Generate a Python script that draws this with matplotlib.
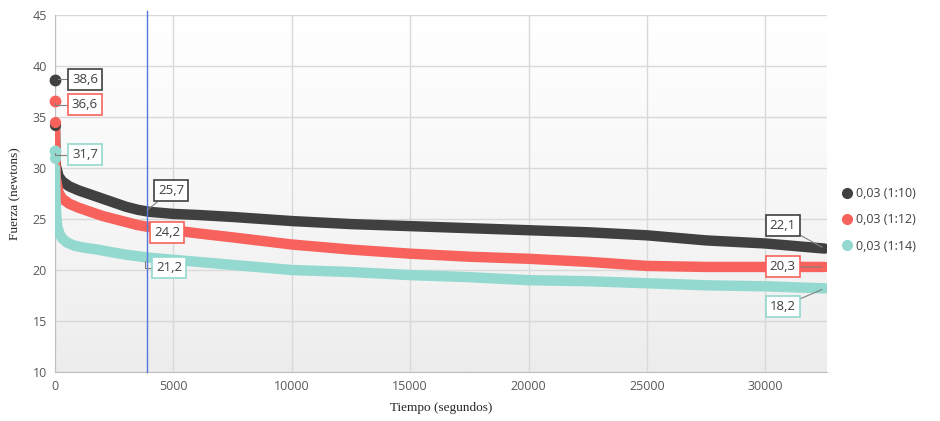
import numpy as np
import matplotlib
matplotlib.use("Agg")
import matplotlib.pyplot as plt
from matplotlib.lines import Line2D

# ---- data ----
series_names = ["0,03 (1:10)", "0,03 (1:12)", "0,03 (1:14)"]
colors = ["#404040", "#f8625c", "#93d9cf"]

peak_t = [0, 0, 0]
peak_v = [38.6, 36.6, 31.7]
second_v = [34.2, 34.5, 31.0]

t_black = [0, 30, 150, 300, 600, 1000, 1500, 2000, 2500, 3000, 3500, 4000, 5000, 6000,
           7500, 10000, 12500, 15000, 17500, 20000, 22500, 25000, 27500, 30000, 32500]
v_black = [34.2, 30.3, 29.2, 28.7, 28.2, 27.8, 27.4, 27.0, 26.6, 26.2, 25.9, 25.7, 25.5, 25.4,
           25.2, 24.8, 24.5, 24.3, 24.1, 23.9, 23.7, 23.4, 22.9, 22.6, 22.1]

t_red = [0, 0, 30, 150, 300, 600, 1000, 1500, 2000, 2500, 3000, 3500, 4000, 5000, 6000,
         7500, 10000, 12500, 15000, 17500, 20000, 22500, 25000, 27500, 30000, 32500]
v_red = [34.5, 33.0, 29.0, 27.6, 27.0, 26.5, 26.1, 25.7, 25.3, 25.0, 24.7, 24.4, 24.2, 23.9, 23.6,
         23.2, 22.5, 22.0, 21.6, 21.3, 21.1, 20.8, 20.4, 20.3, 20.3, 20.3]

t_cyan = [0, 20, 60, 100, 200, 300, 500, 800, 1200, 1800, 2500, 3000, 4000, 5000, 6000,
          7500, 10000, 12500, 15000, 17500, 20000, 22500, 25000, 27500, 30000, 32500]
v_cyan = [30.0, 27.0, 25.2, 24.2, 23.5, 23.1, 22.7, 22.4, 22.2, 22.0, 21.7, 21.5, 21.2, 21.0, 20.8,
          20.5, 20.0, 19.8, 19.5, 19.3, 19.0, 18.9, 18.7, 18.5, 18.4, 18.2]

label_pts = [  # (t, value, series index, offset px, connector)
    (0, 38.6, 0, (30, 1), "angle"),
    (0, 36.6, 1, (30, -4), "angle"),
    (0, 31.7, 2, (30, -4), "angle"),
    (3800, 25.7, 0, (26, 21), "arc"),
    (3800, 24.2, 1, (22, -5), "arc"),
    (3800, 21.2, 2, (24, -10), "angle"),
    (32500, 22.1, 0, (-42, 23), "arc"),
    (32500, 20.3, 1, (-42, 0), "arc"),
    (32500, 18.2, 2, (-42, -18), "arc"),
]
label_text = ["38,6", "36,6", "31,7", "25,7", "24,2", "21,2", "22,1", "20,3", "18,2"]

x_ticks = [0, 5000, 10000, 15000, 20000, 25000, 30000]
y_ticks = [10, 15, 20, 25, 30, 35, 40, 45]
vline_t = 3900

# ---- figure ----
W, H = 940, 421
fig = plt.figure(figsize=(W / 100, H / 100), dpi=100)
ax = fig.add_axes([55 / W, 1 - 372 / H, (827 - 55) / W, (372 - 15) / H])
ax.set_xlim(0, 32600)
ax.set_ylim(10, 45)

# gradient background
grad = np.linspace(0, 1, 256).reshape(-1, 1) ** 0.8
ax.imshow(grad, extent=[0, 1, 0, 1], transform=ax.transAxes, aspect="auto",
          cmap=matplotlib.colors.LinearSegmentedColormap.from_list("g", ["#ececec", "#ffffff"]),
          origin="lower", zorder=0)

ax.set_xticks(x_ticks)
ax.set_yticks(y_ticks)
ax.grid(True, color="#d9d9d9", lw=1, zorder=1)
ax.set_axisbelow(True)
for s in ["top", "right"]:
    ax.spines[s].set_visible(False)
for s in ["left", "bottom"]:
    ax.spines[s].set_color("#bfbfbf")
ax.tick_params(length=0, labelsize=9, labelcolor="#595959", pad=6)
for lab in ax.get_xticklabels() + ax.get_yticklabels():
    lab.set_fontfamily("Open Sans")

ax.axvline(vline_t, color="#5577dd", lw=1.0, zorder=5, ymax=1.01, clip_on=False)

for t, v, c in [(t_black, v_black, colors[0]), (t_red, v_red, colors[1]), (t_cyan, v_cyan, colors[2])]:
    ax.plot(t, v, color=c, lw=7.5, solid_capstyle="round", solid_joinstyle="round", zorder=3)
for t, v, v2, c in zip(peak_t, peak_v, second_v, colors):
    ax.plot([t], [v], "o", color=c, ms=7.5, zorder=4, clip_on=False)
    ax.plot([t], [v2], "o", color=c, ms=7, zorder=4, clip_on=False)

for (t, v, si, off, conn), txt in zip(label_pts, label_text):
    cs = "angle,angleA=0,angleB=90,rad=0" if conn == "angle" else "arc3"
    ax.annotate(txt, xy=(t, v), xytext=(off[0] * 0.72, off[1] * 0.72), textcoords="offset points",
                ha="center", va="center", fontsize=9.5, color="#404040", fontfamily="Open Sans",
                bbox=dict(boxstyle="square,pad=0.3", fc="white", ec=colors[si], lw=1.2),
                arrowprops=dict(arrowstyle="-", color="#808080", lw=0.8, shrinkA=0, shrinkB=2,
                                connectionstyle=cs),
                zorder=6)

ax.set_xlabel("Tiempo (segundos)", fontfamily="Liberation Serif", fontsize=9.5, color="#262626", labelpad=6)
ax.set_ylabel("Fuerza (newtons)", fontfamily="Liberation Serif", fontsize=9.5, color="#262626", labelpad=8)

handles = [Line2D([], [], marker="o", ls="", color=c, ms=7) for c in colors]
fig.legend(handles, series_names, loc="upper left", bbox_to_anchor=(828 / W, 1 - 176 / H),
           frameon=False, handletextpad=0.1, labelspacing=1.05, handlelength=1.2,
           prop=dict(family="Open Sans", size=9), labelcolor="#404040")

fig.savefig("out.png", dpi=100)
